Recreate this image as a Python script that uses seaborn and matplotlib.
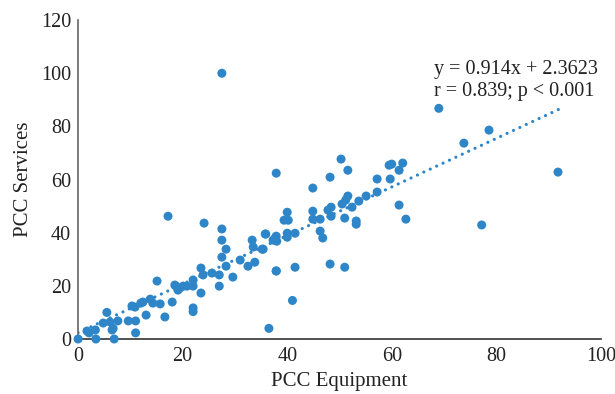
import matplotlib.pyplot as plt
import numpy as np
import seaborn as sns

POINT_COLOR = "#2E86C8"

equipment = [
    0, 3.4, 6.9, 1.7, 2.1, 3.3, 4.8, 5.5, 6.1, 6.7, 6.5, 7.6, 9.6, 11, 11,
    10.3, 10.9, 12, 12.4, 13.8, 13, 14.3, 15.1, 15.7, 16.6, 18.7, 19.1,
    17.2, 24.1, 27.5, 27.5, 28.3, 27.5, 28.3, 29.6, 31, 32.5, 33.8, 33.3,
    33.5, 35.2, 35.9, 37.7, 37.9, 18.5, 19.5, 20.1, 20.8, 22, 22, 23.5,
    23.9, 25.6, 27, 27, 23.5, 18, 22, 22,
    37.9, 50.3, 51.6, 48.2, 44.9, 59.5, 59.7, 51.6, 51.2, 50.5, 52.4, 53.7,
    55.1, 57.2, 48.4, 47.8, 44.9, 44.9, 46.3, 48.4, 51, 53.2, 53.2, 46.3,
    46.8, 40, 39.4, 40.2, 40, 41.5, 35.8, 37.9, 37.3, 38, 40, 35.4, 37.9,
    41.5, 48.2, 51,
    60, 62.1, 61.4, 57.2, 61.4, 62.7, 69, 78.6, 73.8, 91.8, 77.2,
    27.5, 36.5, 41,
]
services = [
    0, 0, 0, 3, 2.3, 3.4, 6, 10, 6.4, 4, 3.4, 6.8, 6.8, 6.8, 2.3,
    12.4, 12, 13.5, 13.9, 15, 9, 13.5, 21.8, 13.2, 8.3, 19.9, 18.4,
    46.2, 43.6, 41.4, 37.2, 33.8, 30.8, 27.4, 23.3, 29.7, 27.4, 28.9, 37.2,
    34.6, 33.8, 39.5, 38, 25.6, 20.3, 19.2, 19.9, 19.9, 22.2, 19.9, 26.7,
    24.1, 24.8, 24.1, 19.9, 17.3, 13.9, 11.7, 10.3,
    62.4, 67.7, 63.5, 60.9, 56.8, 65.4, 60.2, 53.8, 52.3, 50.8, 49.6, 51.9,
    53.8, 55.3, 49.6, 48.5, 48.1, 45.1, 45.1, 46.2, 45.5, 44.4, 43.2, 40.6,
    38, 47.7, 44.7, 44.7, 39.8, 39.8, 39.5, 38.7, 37.2, 36.8, 38.3, 33.8, 25.6,
    27, 28.2, 27,
    65.8, 66.2, 63.5, 60.2, 50.4, 45.1, 86.8, 78.6, 73.7, 62.8, 42.9,
    100, 4, 14.5,
]

slope = 0.914
intercept = 2.3623
fit_x = [0, 92]
fit_label = "y = 0.914x + 2.3623\nr = 0.839; p < 0.001"

x_ticks = [0, 20, 40, 60, 80, 100]
y_ticks = [0, 20, 40, 60, 80, 100, 120]

sns.set_theme(style="white")
plt.rcParams["font.family"] = ["Liberation Serif", "DejaVu Serif"]

fig = plt.figure(figsize=(6.15, 3.94), dpi=100)
ax = fig.add_axes([0.127, 0.1396, 0.850, 0.8094])

fit_y = [slope * v + intercept for v in fit_x]
ax.plot(fit_x, fit_y, color=POINT_COLOR, linewidth=2.3,
        linestyle=(0, (0.01, 2.2)), dash_capstyle="round", zorder=2)

sns.scatterplot(x=equipment, y=services, ax=ax, color=POINT_COLOR, s=42,
                edgecolor="none", clip_on=False, zorder=3)

ax.set_xlim(0, 100)
ax.set_ylim(0, 120)
ax.set_xticks(x_ticks)
ax.set_yticks(y_ticks)
ax.tick_params(axis="both", length=0, labelsize=14.5, colors="#222222")
ax.tick_params(axis="x", pad=6)
ax.tick_params(axis="y", pad=5)
ax.set_xlabel("PCC Equipment", fontsize=15, color="#222222", labelpad=4)
ax.set_ylabel("PCC Services", fontsize=15, color="#222222", labelpad=6)

for side in ["top", "right"]:
    ax.spines[side].set_visible(False)
ax.spines["left"].set_color("#666666")
ax.spines["bottom"].set_color("#333333")
ax.spines["left"].set_linewidth(1.2)
ax.spines["bottom"].set_linewidth(1.2)

ax.text(68, 105, fit_label, fontsize=14.5, color="#222222", ha="left",
        va="top", linespacing=1.25)

fig.savefig("out.png", dpi=100)
